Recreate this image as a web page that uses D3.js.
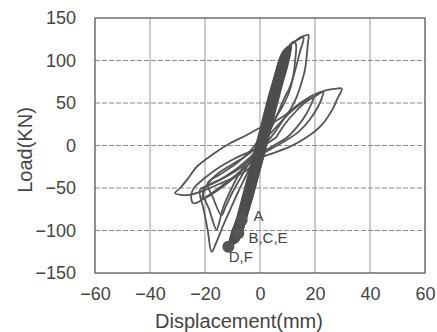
<!DOCTYPE html>
<html>
<head>
<meta charset="utf-8">
<script src="https://cdn.jsdelivr.net/npm/d3@7"></script>
<style>
  html, body { margin: 0; padding: 0; background: #fff; }
  svg { display: block; }
  text { font-family: "Liberation Sans", Arial, sans-serif; fill: #444; }
</style>
</head>
<body>
<svg id="chart" width="437" height="332"></svg>
<script>
// ---------- data ----------
const xTicks = [-60, -40, -20, 0, 20, 40, 60];
const yTicks = [-150, -100, -50, 0, 50, 100, 150];
const xTitle = "Displacement(mm)";
const yTitle = "Load(KN)";

// dense core loops (displacement mm, load kN)
const core1 = [[9.5,113],[8.8,100],[7.2,80],[5.8,60],[4.3,40],[2.8,20],[1.6,0],[0,-20],[-1.6,-40],[-3.3,-60],[-5,-80],[-6.7,-100],[-8.2,-112],[-9.5,-114],[-9,-100],[-7.2,-80],[-5.5,-60],[-3.8,-40],[-2,-20],[-0.6,0],[1,20],[2.6,40],[4.1,60],[5.6,80],[7.2,100],[8.6,110],[9.5,113]];
const core2 = [[10.5,116],[9.8,104],[8.2,84],[6.6,62],[5,40],[3.4,18],[2,0],[0.4,-20],[-1.3,-40],[-3,-60],[-4.8,-80],[-6.6,-100],[-8.6,-112],[-10.5,-116],[-9.8,-104],[-8,-84],[-6.2,-62],[-4.4,-40],[-2.7,-20],[-1.2,0],[0.3,18],[2,40],[3.8,62],[5.8,84],[7.8,104],[9.4,113],[10.5,116]];
const core3 = [[7.5,100],[6.4,85],[5,65],[3.7,45],[2.3,22],[1,0],[-0.7,-22],[-2.4,-45],[-4.2,-67],[-6,-85],[-8.5,-102],[-7.6,-88],[-5.6,-67],[-3.7,-45],[-2,-22],[-0.2,0],[1.5,22],[3,45],[4.5,65],[6,85],[7.5,100]];
const core4 = [[9,110],[7.8,92],[6.2,70],[4.6,48],[3,26],[1.4,4],[-0.3,-18],[-2.2,-42],[-4.2,-66],[-6.2,-88],[-8.5,-106],[-11,-118],[-10.2,-104],[-8,-86],[-6,-64],[-4,-40],[-2.2,-18],[-0.6,4],[1.2,26],[3,48],[4.8,70],[6.6,92],[9,110]];
const core5 = [[11.2,118],[10.6,106],[9.4,90],[7.8,72],[6.2,52],[4.4,30],[2.6,8],[1,-12],[-0.8,-34],[-2.8,-58],[-4.6,-78],[-6.2,-94],[-7.2,-100],[-6.6,-90],[-5,-72],[-3.4,-52],[-1.6,-30],[0.2,-8],[1.8,14],[3.6,36],[5.6,58],[7.6,80],[9.6,102],[11.2,118]];

// tall cycles
const tall1 = [[-1,-5],[1,20],[3,45],[5,70],[7,92],[9,108],[11,118],[12.7,122],[14,126],[16,129],[17.6,130],[17.4,120],[17,106],[16.4,90],[15.2,75],[13.3,57],[11,42],[8,28],[5,14],[2,2],[-2,-12],[-7,-26],[-13,-38],[-18,-46],[-21.8,-52],[-20.5,-75],[-19,-100],[-17.6,-125],[-16,-115],[-13.5,-95],[-10.9,-76],[-8,-55],[-5,-35],[-2,-15],[-1,-5]];
const tall2 = [[0,-2],[2,25],[4,52],[6,78],[8,100],[10,114],[11.5,120],[14,125],[15.8,127],[14.5,110],[12.5,85],[10.5,66],[9,57],[6.5,38],[4,20],[1,4],[-3,-12],[-8,-26],[-14,-39],[-20.7,-52],[-18.5,-75],[-15.8,-99],[-14.8,-90],[-13.4,-73],[-11,-55],[-7,-30],[-3,-12],[0,-2]];
const tall3 = [[0,0],[3,38],[6,75],[8.5,100],[10.9,118],[12,122],[13,120],[12.8,100],[12,80],[10.5,62],[8,45],[5.5,32],[3,20],[0,8],[-4,-8],[-9,-22],[-15,-35],[-19,-44],[-17,-62],[-14,-82],[-12.5,-72],[-10,-55],[-6,-32],[-3,-15],[0,0]];

// leaf cycles
const leaf1 = [[-0.6,20],[2.9,24],[8.4,34],[13.8,48],[18.8,58.5],[23.6,64.5],[27,66.5],[29.7,67],[29.3,62],[28.4,57],[26.6,44],[22.4,24],[16.4,8.4],[10.9,-1.4],[4.8,-9],[0,-15],[-4.8,-29],[-9,-37],[-13.3,-43],[-19,-51],[-25.5,-58],[-29,-58],[-30.9,-56],[-29,-50],[-26,-38],[-23,-25],[-17,-10],[-10.9,2.6],[-5,12],[-0.6,20]];
const leaf2 = [[6,10],[9,25],[13,40],[17,52],[20,58],[23,63],[22.5,56],[21,45],[18,30],[14,16],[9,5],[4,-4],[-1,-14],[-6,-28],[-11,-42],[-16,-54],[-20,-62],[-24.2,-68],[-25,-58],[-24,-50],[-20,-38],[-14.5,-25],[-9,-15],[-3.6,-7],[2.4,2],[6,10]];
const leaf3 = [[2,8],[6,22],[10,36],[14,47],[17,53],[19.5,57],[18.8,50],[17,38],[14,24],[10,10],[5,0],[0,-10],[-5,-24],[-10,-38],[-15,-50],[-18,-57],[-21,-63],[-20.5,-55],[-19,-45],[-15,-32],[-10,-22],[-5,-12],[-1,-2],[2,8]];

// marked points
const markPoints = [[-6.65,-87.6],[-7.9,-103.3],[-11.5,-119]];
const markLabels = ["A", "B,C,E", "D,F"];
const markLabelPos = [[-2.4,-88.5],[-4.2,-114.6],[-11.4,-137]];

// ---------- layout ----------
const svg = d3.select("#chart");
const L = 95, R = 425, T = 18, B = 273;
const x = d3.scaleLinear().domain([-60, 60]).range([L, R]);
const y = d3.scaleLinear().domain([-150, 150]).range([B, T]);

// grid
const grid = svg.append("g");
grid.selectAll(".vg").data(xTicks.slice(1, -1)).enter().append("line")
  .attr("x1", d => x(d)).attr("x2", d => x(d)).attr("y1", T).attr("y2", B)
  .attr("stroke", "#9a9a9a").attr("stroke-width", 1);
grid.selectAll(".hg").data(yTicks.slice(1, -1)).enter().append("line")
  .attr("x1", L).attr("x2", R).attr("y1", d => y(d)).attr("y2", d => y(d))
  .attr("stroke", "#8a8a8a").attr("stroke-width", 1).attr("stroke-dasharray", "5,2");

// curves
const line = d3.line().x(d => x(d[0])).y(d => y(d[1])).curve(d3.curveCatmullRom.alpha(0.5));
const plot = svg.append("g");
[leaf1, leaf2, leaf3, tall1, tall2, tall3].forEach(s => {
  plot.append("path").attr("d", line(s)).attr("fill", "none")
    .attr("stroke", "#555").attr("stroke-width", 1.8).attr("stroke-linejoin", "round");
});
[core1, core2, core3, core4, core5].forEach(s => {
  plot.append("path").attr("d", line(s)).attr("fill", "none")
    .attr("stroke", "#4d4d4d").attr("stroke-width", 3.2).attr("stroke-linejoin", "round");
});

// marks
plot.selectAll(".mk").data(markPoints).enter().append("circle")
  .attr("cx", d => x(d[0])).attr("cy", d => y(d[1])).attr("r", 6).attr("fill", "#555");
plot.selectAll(".ml").data(markLabels).enter().append("text")
  .attr("x", (d, i) => x(markLabelPos[i][0])).attr("y", (d, i) => y(markLabelPos[i][1]))
  .attr("font-size", 15).text(d => d);

// frame
svg.append("rect").attr("x", L).attr("y", T).attr("width", R - L).attr("height", B - T)
  .attr("fill", "none").attr("stroke", "#555").attr("stroke-width", 1.3);

// axes (labels only)
const ax = svg.append("g").attr("transform", `translate(0,${B})`)
  .call(d3.axisBottom(x).tickValues(xTicks).tickSize(0).tickPadding(14));
const ay = svg.append("g").attr("transform", `translate(${L},0)`)
  .call(d3.axisLeft(y).tickValues(yTicks).tickSize(0).tickPadding(19));
[ax, ay].forEach(g => {
  g.select(".domain").remove();
  g.selectAll("text").attr("font-size", 18).attr("font-family", "Liberation Sans, Arial, sans-serif").attr("fill", "#444");
});

// titles
svg.append("text").attr("x", 239).attr("y", 328).attr("text-anchor", "middle")
  .attr("font-size", 20).text(xTitle);
svg.append("text").attr("transform", "translate(32,150) rotate(-90)").attr("text-anchor", "middle")
  .attr("font-size", 20).text(yTitle);
</script>
</body>
</html>
